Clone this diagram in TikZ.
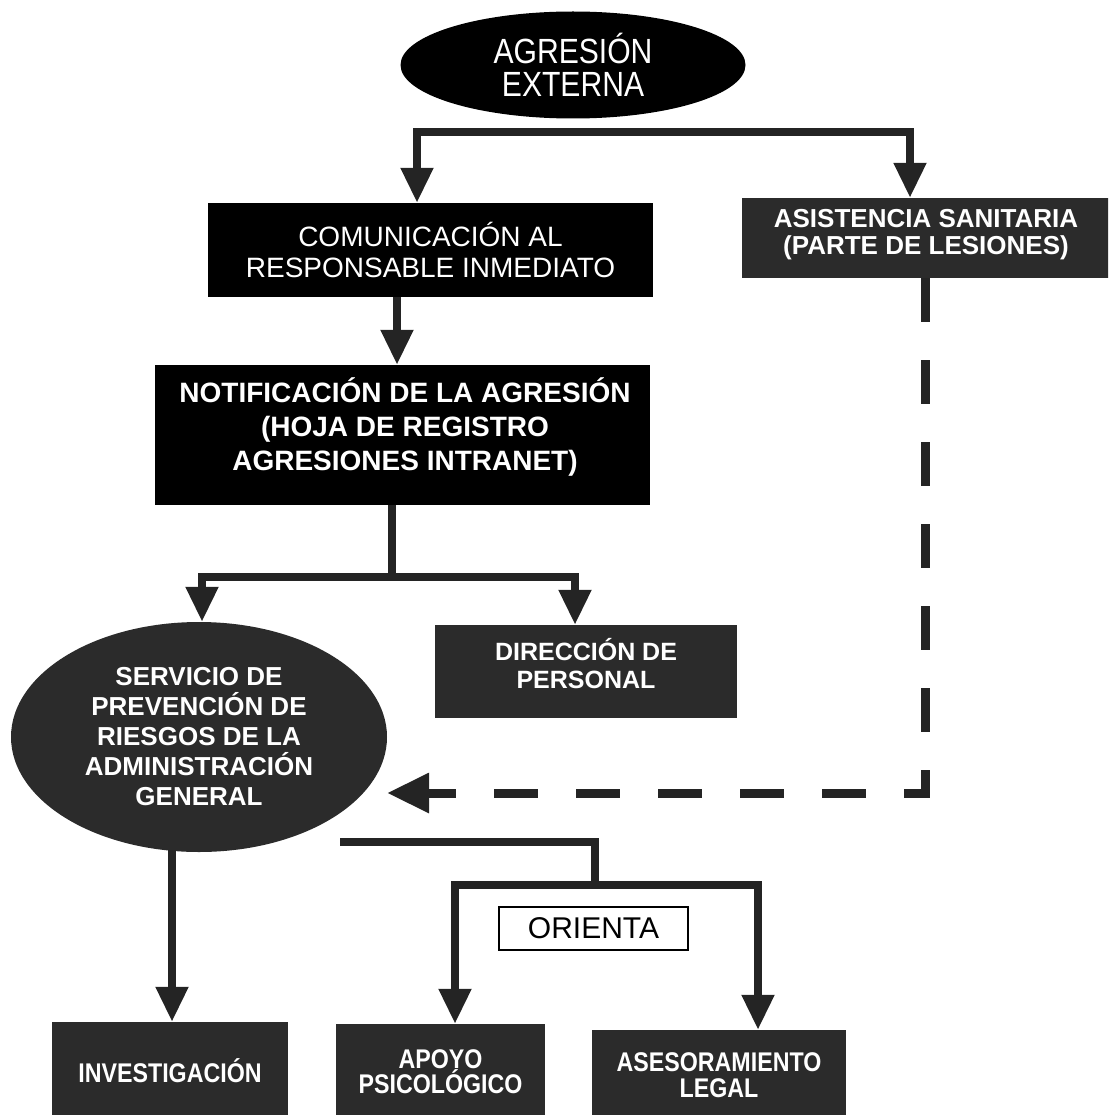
\documentclass[tikz,border=0pt]{standalone}
\usepackage{fontspec}
\setmainfont{Liberation Sans}
\newfontfamily\narrowsans{Liberation Sans}[FakeStretch=0.86]
\usetikzlibrary{arrows.meta,shapes.geometric}
\definecolor{dk}{gray}{0.17}
\definecolor{ln}{gray}{0.14}
\begin{document}
\begin{tikzpicture}[x=1pt,y=-1pt,
  >={Triangle[width=31pt,length=35pt]},
  solidbox/.style={rectangle, fill=black, text=white, inner sep=0pt, align=center},
  greybox/.style={rectangle, fill=dk, text=white, inner sep=0pt, align=center},
  boxtext/.style={text=white, inner sep=0pt, align=center},
  conn/.style={line width=8pt, draw=ln, line join=miter, line cap=butt},
  dashconn/.style={line width=9pt, draw=ln, line join=miter, dash pattern=on 44pt off 38pt,
    -{Triangle[width=38pt,length=42pt]}},
  orbox/.style={rectangle, draw=black, line width=1.5pt, fill=white, inner sep=0pt}
]
\useasboundingbox (0,0) rectangle (1108,1115);
\clip (0,0) rectangle (1108,1115);

% nodes
\node[solidbox, ellipse, minimum width=345pt, minimum height=107pt,
  font=\narrowsans\fontsize{35}{33}\selectfont] (agr) at (573,65) {AGRESIÓN\\EXTERNA};
\node[solidbox, minimum width=445pt, minimum height=94pt,
  font=\fontsize{28}{31}\selectfont] (comm) at (430.5,250) {COMUNICACIÓN AL\\RESPONSABLE INMEDIATO};
\node[greybox, minimum width=368pt, minimum height=80pt] (asis) at (926,238) {};
\node[boxtext, font=\bfseries\fontsize{26}{27}\selectfont] (asist) at (926,235) {ASISTENCIA SANITARIA\\(PARTE DE LESIONES)};
\node[solidbox, minimum width=495pt, minimum height=140pt] (notif) at (402.5,435) {};
\node[boxtext, font=\bfseries\fontsize{28}{34}\selectfont] (notift) at (405,427) {NOTIFICACIÓN DE LA AGRESIÓN\\(HOJA DE REGISTRO\\AGRESIONES INTRANET)};
\node[greybox, ellipse, minimum width=376pt, minimum height=230pt,
  font=\bfseries\fontsize{26}{30}\selectfont] (serv) at (199,737) {SERVICIO DE\\PREVENCIÓN DE\\RIESGOS DE LA\\ADMINISTRACIÓN\\GENERAL};
\node[greybox, minimum width=302pt, minimum height=93pt] (dir) at (586,671.5) {};
\node[boxtext, font=\bfseries\fontsize{25}{28}\selectfont] (dirt) at (586,664) {DIRECCIÓN DE\\PERSONAL};
\node[greybox, minimum width=236pt, minimum height=98pt,
  font=\narrowsans\bfseries\fontsize{27}{26}\selectfont] (inv) at (170,1071) {INVESTIGACIÓN};
\node[greybox, minimum width=209pt, minimum height=96pt,
  font=\narrowsans\bfseries\fontsize{27}{25}\selectfont] (apo) at (440.5,1072) {APOYO\\PSICOLÓGICO};
\node[greybox, minimum width=254pt, minimum height=90pt,
  font=\narrowsans\bfseries\fontsize{27}{26}\selectfont] (ase) at (719,1075) {ASESORAMIENTO\\LEGAL};
\node[orbox, minimum width=189pt, minimum height=43pt,
  font=\fontsize{30}{30}\selectfont] (ori) at (593.5,928.5) {ORIENTA};

% guide coordinates
\coordinate (tL) at (417,132);
\coordinate (tR) at (910,132);
\coordinate (xA) at (397,0);
\coordinate (nS) at (392,577);
\coordinate (nL) at (202,577);
\coordinate (nR) at (575,577);
\coordinate (dC) at (925,793);
\coordinate (dE) at (387,793);
\coordinate (b0) at (340,842);
\coordinate (b1) at (595,842);
\coordinate (bL) at (455,885);
\coordinate (bR) at (758,885);
\coordinate (iv) at (172,850);

% connectors
\draw[conn,<->] (tL |- comm.north) -- (tL) -- (tR) -- (tR |- asis.north);
\draw[conn,->] (comm.south -| xA) -- (notif.north -| xA);
\draw[conn] (notif.south -| nS) -- (nS);
\draw[conn,<->] (nL |- serv.north) -- (nL) -- (nR) -- (nR |- dir.north);
\draw[dashconn] (asis.south -| dC) -- (dC) -- (dE);
\draw[conn] (b0) -- (b1) -- (b1 |- bL);
\draw[conn,<->] (bL |- apo.north) -- (bL) -- (bR) -- (bR |- ase.north);
\draw[conn,->] (iv) -- (iv |- inv.north);
\end{tikzpicture}
\end{document}
